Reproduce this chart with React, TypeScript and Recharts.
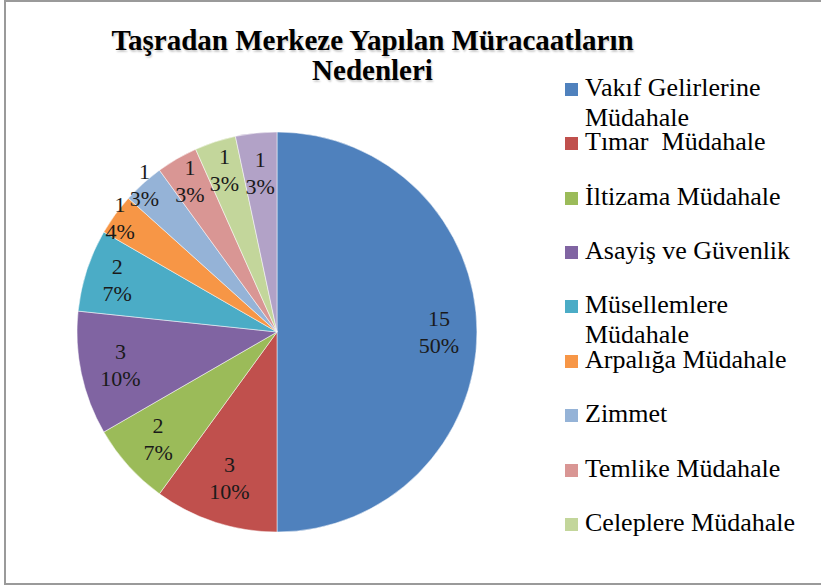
import React from 'react';
import { PieChart, Pie, Cell, Legend } from 'recharts';

const categories = [
  'Vakıf Gelirlerine Müdahale',
  'Tımar  Müdahale',
  'İltizama Müdahale',
  'Asayiş ve Güvenlik',
  'Müsellemlere Müdahale',
  'Arpalığa Müdahale',
  'Zimmet',
  'Temlike Müdahale',
  'Celeplere Müdahale',
  'Diğer',
];
const values = [15, 3, 2, 3, 2, 1, 1, 1, 1, 1];
const percentLabels = ['50%', '10%', '7%', '10%', '7%', '4%', '3%', '3%', '3%', '3%'];
const titleLines = ['Taşradan Merkeze Yapılan Müracaatların', 'Nedenleri'];
const LEGEND_COUNT = 9;

const COLORS = ['#4F81BD', '#C0504D', '#9BBB59', '#8064A2', '#4BACC6', '#F79646', '#95B3D7', '#D99694', '#C3D69B', '#B2A2C7'];
const LABEL_RADIUS = [0.81, 0.77, 0.8, 0.8, 0.84, 0.97, 0.99, 0.87, 0.85, 0.8];
const FONT = 'Liberation Serif, Tinos, Times New Roman, Times, DejaVu Serif, Noto Serif, serif';

const data = categories.map((name, i) => ({ name, value: values[i] }));

const RAD = Math.PI / 180;
const renderLabel = (props: any) => {
  const { cx, cy, midAngle, outerRadius, index } = props;
  const r = outerRadius * LABEL_RADIUS[index];
  const x = cx + r * Math.cos(-midAngle * RAD);
  const y = cy + r * Math.sin(-midAngle * RAD);
  return (
    <text textAnchor="middle" fill="#1a1a1a" fontSize={22} style={{ fontFamily: FONT }}>
      <tspan x={x} y={y - 6}>{values[index]}</tspan>
      <tspan x={x} y={y + 21}>{percentLabels[index]}</tspan>
    </text>
  );
};

const renderLegend = () => (
  <div style={{ position: 'relative', width: 256, height: 585, fontFamily: FONT }}>
    {categories.slice(0, LEGEND_COUNT).map((name, i) => {
      const top = 72.7 + 54.4 * i;
      return (
        <div key={name} style={{ position: 'absolute', left: 0, top, width: 256 }}>
          <div style={{ position: 'absolute', left: 0, top: 10, width: 13, height: 13, background: COLORS[i] }} />
          <div style={{ position: 'absolute', left: 20, top: 0, width: 230, fontSize: 26, lineHeight: '30px', color: '#000', whiteSpace: 'pre-wrap', fontFamily: FONT }}>
            {name}
          </div>
        </div>
      );
    })}
  </div>
);

export default function App() {
  return (
    <div style={{ position: 'absolute', left: 0, top: 0, width: 821, height: 585, background: '#fff', overflow: 'hidden', fontFamily: FONT }}>
      <div style={{ position: 'absolute', left: 4, top: 0, width: 817, height: 581, borderTop: '2px solid #9a9a9a', borderLeft: '2px solid #9a9a9a', borderBottom: '2px solid #9a9a9a' }} />
      <div style={{ position: 'absolute', left: 0, top: 0 }}>
        <PieChart width={821} height={585} margin={{ top: 0, right: 0, bottom: 0, left: 0 }}>
          <Pie
            data={data}
            dataKey="value"
            nameKey="name"
            cx={277}
            cy={332}
            outerRadius={200}
            startAngle={90}
            endAngle={-270}
            stroke="#ffffff"
            strokeWidth={0.5}
            label={renderLabel}
            labelLine={false}
            isAnimationActive={false}
          >
            {data.map((d, i) => (
              <Cell key={d.name} fill={COLORS[i]} />
            ))}
          </Pie>
          <Legend
            layout="vertical"
            align="right"
            verticalAlign="top"
            content={renderLegend}
            wrapperStyle={{ position: 'absolute', left: 565, top: 0, width: 256, height: 585 }}
          />
        </PieChart>
      </div>
      <div style={{ position: 'absolute', left: 0, top: 25, width: 745, textAlign: 'center', fontFamily: FONT, fontWeight: 'bold', fontSize: 29, lineHeight: '30px', color: '#000', textShadow: '1px 2px 2px rgba(0,0,0,0.2)' }}>
        {titleLines.map((t) => (
          <div key={t}>{t}</div>
        ))}
      </div>
    </div>
  );
}
